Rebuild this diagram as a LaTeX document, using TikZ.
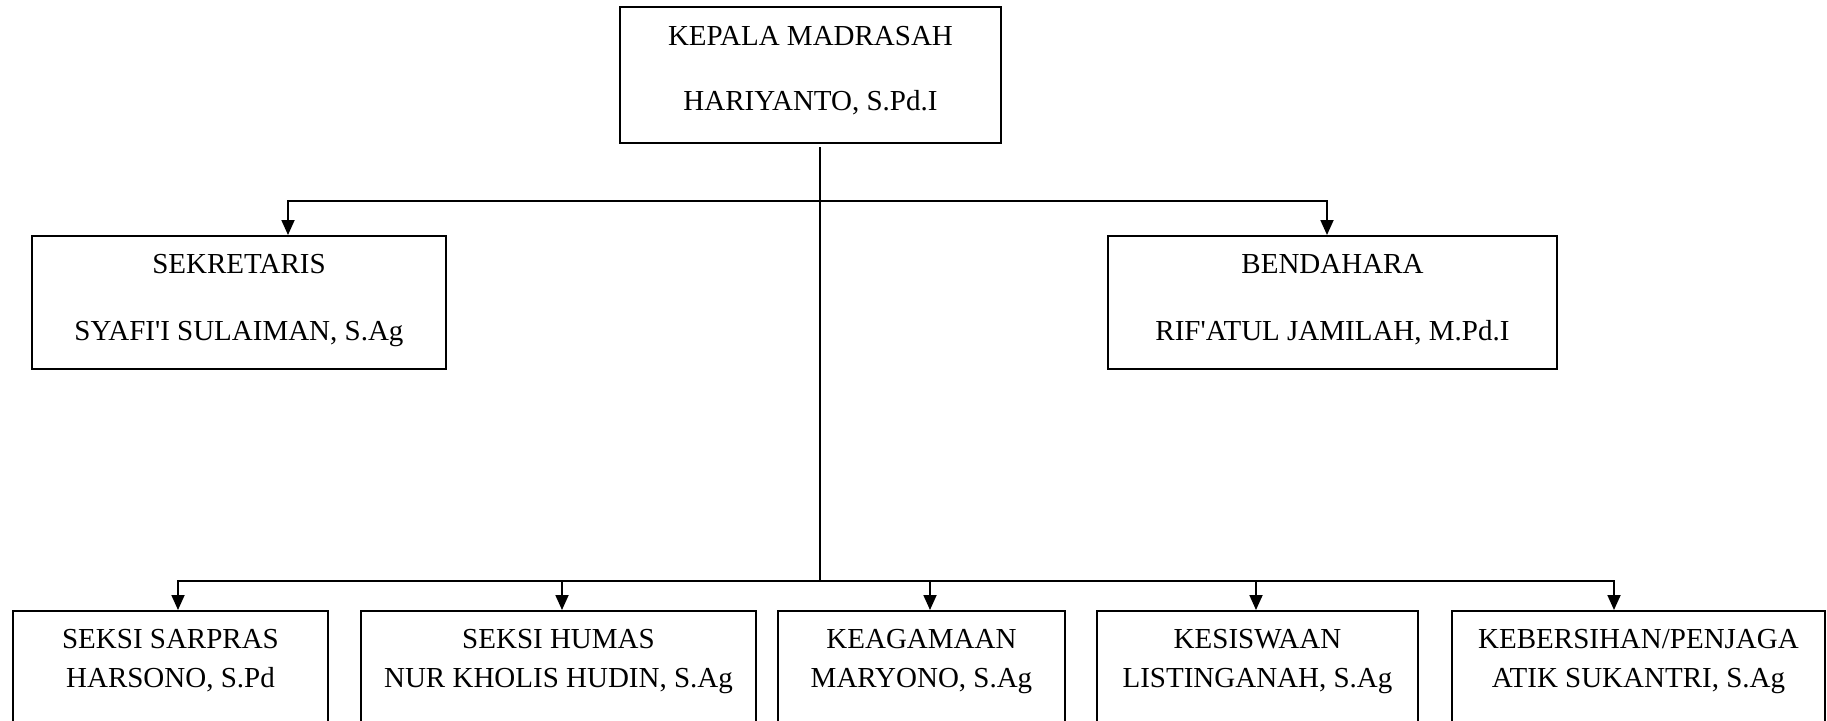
\documentclass[tikz,border=0pt]{standalone}
\usepackage{fontspec}
\setmainfont{Liberation Serif}[Ligatures=TeXOff]
\usetikzlibrary{arrows.meta,fit}
\begin{document}
\begin{tikzpicture}[x=0.5pt,y=-0.5pt,
  box/.style={draw,line width=1pt,inner sep=0pt},
  lbl/.style={anchor=base,inner sep=0pt,font=\fontsize{14.5pt}{17pt}\selectfont},
  conn/.style={line width=0.9pt},
  arr/.style={conn,-{Triangle[length=7.5pt,width=6.5pt]}}]
\useasboundingbox (0,0) rectangle (1827,720);
\clip (0,0) rectangle (1827,720);
% boxes
\node[box,fit={(620,7) (1001,143)}] (kepala) {};
\node[box,fit={(32,236) (446,369)}] (sek) {};
\node[box,fit={(1108,236) (1557,369)}] (ben) {};
\node[box,fit={(13,611) (328,770)}] (b1) {};
\node[box,fit={(361,611) (756,770)}] (b2) {};
\node[box,fit={(778,611) (1065,770)}] (b3) {};
\node[box,fit={(1097,611) (1418,770)}] (b4) {};
\node[box,fit={(1452,611) (1825,770)}] (b5) {};
% texts
\node[lbl] (kt1) at (810.5,45) {KEPALA MADRASAH};
\node[lbl] (kt2) at (810.5,110) {HARIYANTO, S.Pd.I};
\node[lbl] (st1) at (239,273) {SEKRETARIS};
\node[lbl] (st2) at (239,340) {SYAFI'I SULAIMAN, S.Ag};
\node[lbl] (bt1) at (1332.5,273) {BENDAHARA};
\node[lbl] (bt2) at (1332.5,340) {RIF'ATUL JAMILAH, M.Pd.I};
\node[lbl] (t1a) at (170.5,648) {SEKSI SARPRAS};
\node[lbl] (t1b) at (170.5,687) {HARSONO, S.Pd};
\node[lbl] (t2a) at (558.5,648) {SEKSI HUMAS};
\node[lbl] (t2b) at (558.5,687) {NUR KHOLIS HUDIN, S.Ag};
\node[lbl] (t3a) at (921.5,648) {KEAGAMAAN};
\node[lbl] (t3b) at (921.5,687) {MARYONO, S.Ag};
\node[lbl] (t4a) at (1257.5,648) {KESISWAAN};
\node[lbl] (t4b) at (1257.5,687) {LISTINGANAH, S.Ag};
\node[lbl] (t5a) at (1638.5,648) {KEBERSIHAN/PENJAGA};
\node[lbl] (t5b) at (1638.5,687) {ATIK SUKANTRI, S.Ag};
% junctions
\coordinate (jt) at (820,201);
\coordinate (jb) at (820,581);
\coordinate (as) at (288,201);
\coordinate (ab) at (1327,201);
\coordinate (c1) at (178,581);
\coordinate (c2) at (562,581);
\coordinate (c3) at (930,581);
\coordinate (c4) at (1256,581);
\coordinate (c5) at (1614,581);
% connectors
\draw[conn,shorten <=1.5pt] (jt |- kepala.south) -- (jb);
\draw[arr] (jt) -| (as |- sek.north);
\draw[arr] (jt) -| (ab |- ben.north);
\draw[arr] (jb) -| (c1 |- b1.north);
\draw[arr] (jb) -| (c2 |- b2.north);
\draw[arr] (jb) -| (c3 |- b3.north);
\draw[arr] (jb) -| (c4 |- b4.north);
\draw[arr] (jb) -| (c5 |- b5.north);
\end{tikzpicture}
\end{document}
